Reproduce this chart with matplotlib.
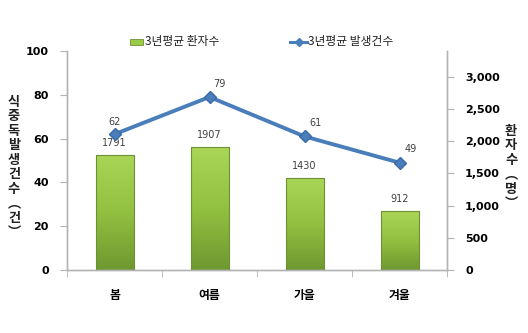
import matplotlib
matplotlib.use("Agg")
import matplotlib.pyplot as plt
import numpy as np
from matplotlib.colors import LinearSegmentedColormap
from matplotlib.patches import Rectangle
from matplotlib.lines import Line2D

plt.rcParams['font.family'] = ['DejaVu Sans', 'Noto Sans CJK KR']

seasons = ['봄', '여름', '가을', '겨울']
patients = [1791, 1907, 1430, 912]
incidents = [62, 79, 61, 49]
left_ticks = [0, 20, 40, 60, 80, 100]
right_ticks = [0, 500, 1000, 1500, 2000, 2500, 3000]
right_ticklabels = ['0', '500', '1,000', '1,500', '2,000', '2,500', '3,000']
bar_label = '3년평균 환자수'
line_label = '3년평균 발생건수'
left_ylabel = '식중독발생건수︵건︶'
right_ylabel = '환자수︵명︶'

W, H = 528, 333
fig = plt.figure(figsize=(W / 100, H / 100), dpi=100)
ax = fig.add_axes([67 / W, (H - 270) / H, (447 - 67) / W, (270 - 51) / H])
ax2 = ax.twinx()

x = np.arange(len(seasons))
grey = '#b3b3b3'

# bars (right scale) on ax
bars = ax.bar(x, patients, width=0.4, color='none', edgecolor='#6e8f33', linewidth=0.8, zorder=3)
cmap = LinearSegmentedColormap.from_list('g', ['#6f9830', '#92c040', '#aad657'])
grad = np.linspace(0, 1, 256).reshape(-1, 1)
for b in bars:
    x0, y0, w, h = b.get_x(), b.get_y(), b.get_width(), b.get_height()
    im = ax.imshow(grad, cmap=cmap, aspect='auto', origin='lower',
                   extent=[x0, x0 + w, y0, y0 + h], zorder=2)
    im.set_clip_path(b)
for xi, v in zip(x, patients):
    ax.annotate(str(v), (xi, v), xytext=(0, 5), textcoords='offset points',
                ha='center', va='bottom', fontsize=7, color='#404040')

ax.set_xlim(-0.5, len(seasons) - 0.5)
ax.set_ylim(0, 3400)
ax.set_yticks(right_ticks)
ax.set_yticklabels(right_ticklabels)
ax.yaxis.tick_right()
ax.set_xticks(x)
ax.set_xticklabels(seasons, fontweight='bold', fontsize=8.5,
                   family=['Noto Sans CJK KR'])
ax.set_xticks(np.arange(len(seasons) + 1) - 0.5, minor=True)
ax.tick_params(axis='x', which='major', length=0, pad=14)
ax.tick_params(axis='x', which='minor', length=5, color=grey, direction='out')
ax.tick_params(axis='y', length=5, color=grey, labelsize=8, pad=8)
for lab in ax.get_yticklabels():
    lab.set_fontweight('bold')

# line (left scale) on ax2
ax2.plot(x, incidents, color='#4a7ebb', linewidth=2.8, marker='D', markersize=6,
         markerfacecolor='#4a7ebb', markeredgecolor='#3a6aa8', zorder=5)
offsets = [(0, 5), (7, 6), (8, 6), (8, 6)]
for xi, v, off in zip(x, incidents, offsets):
    ax2.annotate(str(v), (xi, v), xytext=off, textcoords='offset points',
                 ha='center', va='bottom', fontsize=7, color='#404040')
ax2.set_ylim(0, 100)
ax2.set_yticks(left_ticks)
ax2.yaxis.tick_left()
ax2.tick_params(axis='y', length=5, color=grey, labelsize=8, pad=8)
for lab in ax2.get_yticklabels():
    lab.set_fontweight('bold')

for a in (ax, ax2):
    a.spines['top'].set_visible(False)
    for s in ('left', 'right', 'bottom'):
        a.spines[s].set_color(grey)
        a.spines[s].set_linewidth(1.0)

# legend
leg_font = dict(fontsize=8.5, color='#222222', family=['Noto Sans CJK KR'])
fig.patches.append(Rectangle((130 / W, 1 - 45 / H), 13 / W, 6 / H, transform=fig.transFigure,
                             facecolor='#9acb48', edgecolor='#6e8f33', linewidth=0.6))
fig.text(145 / W, 1 - 42 / H, bar_label, va='center', ha='left', **leg_font)
fig.lines.append(Line2D([290 / W, 307 / W], [1 - 42 / H, 1 - 42 / H], transform=fig.transFigure,
                        color='#4a7ebb', linewidth=2.2))
fig.lines.append(Line2D([298.5 / W], [1 - 42 / H], transform=fig.transFigure,
                        color='#4a7ebb', marker='D', markersize=4, linestyle='none'))
fig.text(308 / W, 1 - 42 / H, line_label, va='center', ha='left', **leg_font)

# stacked vertical axis titles
ylab_font = dict(fontsize=9.5, fontweight='bold', color='#222222',
                 family=['Noto Sans CJK KR'], ha='center', va='center', linespacing=1.05)
fig.text(14 / W, 1 - 167 / H, '\n'.join(left_ylabel), **ylab_font)
fig.text(511 / W, 1 - 167 / H, '\n'.join(right_ylabel), **ylab_font)

fig.savefig('out.png', dpi=100)
